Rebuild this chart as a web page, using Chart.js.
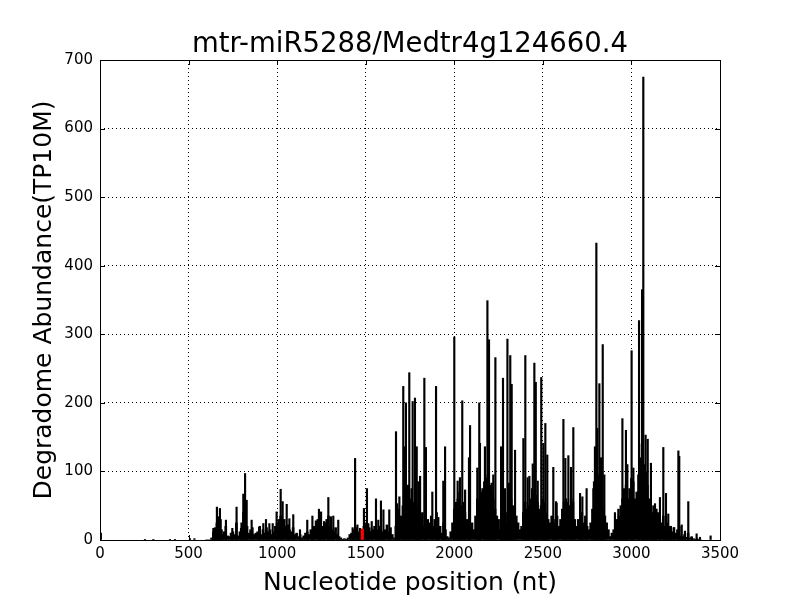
<!DOCTYPE html>
<html>
<head>
<meta charset="utf-8">
<script src="https://cdn.jsdelivr.net/npm/chart.js@4.4.0/dist/chart.umd.min.js"></script>
<style>
  html, body { margin: 0; padding: 0; background: #fff; }
</style>
</head>
<body>
<canvas id="myChart" width="800" height="600"></canvas>
<script>
// values
var titleText = 'mtr-miR5288/Medtr4g124660.4'
var xLabel = 'Nucleotide position (nt)'
var yLabel = 'Degradome Abundance(TP10M)'

var xTicks = [0, 500, 1000, 1500, 2000, 2500, 3000, 3500]
var yTicks = [0, 100, 200, 300, 400, 500, 600, 700]

// cleavage site (red)
var sitePos = [1481]
var siteVal = [16]

// single peaks
var spikePos = [5, 254, 301, 395, 423, 508, 533,
  640, 649, 660, 672, 677, 687, 711, 747, 771, 796, 809, 819, 828, 856, 898, 903, 922, 937, 956, 975, 997,
  1020, 1031, 1054, 1069, 1091, 1129, 1170, 1199, 1236, 1248, 1265, 1289, 1304, 1317, 1345, 1426, 1440, 1453, 1468,
  1490, 1507, 1515, 1534, 1558, 1571, 1586, 1600, 1633, 1671, 1678, 1690, 1712, 1722, 1727, 1746, 1765, 1778, 1788,
  1797, 1807, 1831, 1840, 1876, 1897, 1910, 1938, 1948, 2000, 2019, 2032, 2045, 2061, 2083, 2089, 2130, 2141, 2145,
  2173, 2187, 2192, 2196, 2211, 2220, 2232, 2264, 2275, 2286, 2300, 2309, 2316, 2324, 2343, 2390, 2401, 2414, 2424,
  2443, 2452, 2460, 2471, 2491, 2503, 2514, 2525, 2559, 2574, 2578, 2616, 2627, 2644, 2659, 2672, 2710, 2723, 2747,
  2785, 2794, 2802, 2808, 2819, 2828, 2838, 2847, 2907, 2926, 2939, 2949, 2958, 2969, 2977, 3001, 3011, 3043, 3060,
  3067, 3080, 3092, 3110, 3124, 3133, 3139, 3161, 3180, 3195, 3208, 3223, 3240, 3265, 3270, 3284, 3302, 3321, 3340,
  3368, 3387, 3447]
var spikeVal = [10, 1, 1, 1, 1, 2, 2,
  17, 18, 48, 34, 46, 15, 29, 17, 48, 17, 67, 97, 58, 29, 19, 20, 24, 30, 24, 24, 41,
  74, 56, 52, 31, 37, 15, 29, 35, 45, 41, 27, 62, 34, 35, 29, 18, 119, 22, 17,
  46, 75, 24, 27, 60, 29, 57, 44, 44, 158, 53, 63, 224, 136, 200, 244, 202, 207, 136,
  85, 93, 236, 135, 70, 224, 33, 86, 136, 296, 86, 91, 203, 73, 120, 167, 105, 200, 141,
  136, 349, 230, 292, 83, 95, 266, 136, 236, 75, 293, 83, 269, 227, 131, 148, 269, 91, 93,
  111, 258, 230, 86, 237, 141, 170, 124, 106, 56, 54, 176, 119, 123, 106, 164, 68, 63, 75,
  75, 136, 433, 163, 228, 120, 285, 95, 40, 45, 50, 177, 75, 160, 110, 276, 105, 320, 365,
  675, 153, 147, 112, 50, 53, 45, 62, 135, 68, 38, 20, 18, 130, 122, 22, 13, 56, 5,
  9, 4, 6]

// dense background, one value every 10 nt from 600
var baseStart = 600
var baseStep = 10
var baseVal = [
  0, 0, 0, 3, 12, 15, 25, 20, 30, 8,
  12, 20, 6, 5, 10, 12, 8, 25, 6, 12,
  25, 40, 45, 20, 10, 15, 18, 8, 10, 12,
  6, 8, 15, 10, 18, 12, 15, 8, 12, 20,
  25, 30, 35, 25, 30, 20, 22, 15, 12, 18,
  8, 10, 5, 8, 3, 6, 10, 12, 8, 15,
  10, 20, 28, 30, 25, 15, 20, 25, 30, 35,
  20, 15, 12, 18, 8, 5, 3, 1, 2, 1,
  3, 8, 10, 15, 12, 18, 12, 15, 3, 20,
  25, 15, 18, 12, 15, 20, 10, 15, 20, 12,
  10, 15, 22, 12, 18, 8, 3, 20, 45, 30,
  35, 50, 65, 70, 80, 60, 75, 55, 65, 45,
  50, 35, 40, 20, 15, 30, 25, 35, 20, 30,
  40, 15, 20, 10, 25, 15, 5, 3, 12, 25,
  45, 55, 60, 70, 50, 55, 40, 30, 20, 15,
  25, 15, 35, 60, 55, 70, 75, 85, 90, 95,
  80, 70, 60, 45, 35, 30, 15, 10, 5, 25,
  40, 55, 60, 50, 45, 35, 25, 15, 20, 40,
  55, 45, 50, 60, 75, 70, 65, 55, 45, 50,
  60, 55, 40, 30, 25, 35, 30, 25, 35, 20,
  30, 45, 55, 60, 55, 50, 60, 55, 30, 20,
  30, 25, 40, 25, 35, 20, 15, 25, 45, 85,
  110, 95, 80, 60, 45, 35, 25, 15, 5, 10,
  15, 20, 30, 35, 45, 60, 70, 80, 60, 75,
  90, 85, 60, 70, 95, 120, 140, 110, 100, 80,
  60, 50, 40, 35, 45, 40, 30, 25, 35, 20,
  25, 15, 20, 12, 18, 10, 15, 20, 6, 5,
  8, 4, 10, 3, 4, 2, 1, 2, 1, 0]

function toPoints(xs, ys) {
    var out = []
    for (var i = 0; i < xs.length; i++) out.push({x: xs[i], y: ys[i]})
    return out
}

var basePos = []
for (var i = 0; i < baseVal.length; i++) basePos.push(baseStart + i * baseStep)

var fontName = '"DejaVu Sans", sans-serif'

// frame, inward ticks and the texts, matplotlib style
var framePlugin = {
    id: 'frame',
    afterDraw: function(chart) {
        var c = chart.ctx
        var a = chart.chartArea
        var xs = chart.scales.x
        var ys = chart.scales.y
        c.save()
        c.strokeStyle = '#000'
        c.lineWidth = 1
        c.beginPath()
        xTicks.forEach(function(t) {
            var px = Math.round(xs.getPixelForValue(t)) + 0.5
            c.moveTo(px, a.bottom); c.lineTo(px, a.bottom - 5)
            c.moveTo(px, a.top); c.lineTo(px, a.top + 5)
        })
        yTicks.forEach(function(t) {
            var py = Math.round(ys.getPixelForValue(t)) + 0.5
            c.moveTo(a.left, py); c.lineTo(a.left + 5, py)
            c.moveTo(a.right, py); c.lineTo(a.right - 5, py)
        })
        c.stroke()
        c.strokeRect(a.left + 0.5, a.top + 0.5, a.right - a.left, a.bottom - a.top)

        c.fillStyle = '#000'
        c.textAlign = 'center'
        c.textBaseline = 'alphabetic'
        c.font = '27.5px ' + fontName
        c.fillText(titleText, (a.left + a.right) / 2, 52)
        c.font = '25px ' + fontName
        c.fillText(xLabel, (a.left + a.right) / 2, 590)
        c.translate(51, (a.top + a.bottom) / 2)
        c.rotate(-Math.PI / 2)
        c.fillText(yLabel, 0, 0)
        c.restore()
    }
}

var ctx = document.getElementById('myChart')

var myChart = new Chart(ctx, {
    type: 'bar',
    data: {
        datasets: [{
            label: 'site',
            data: toPoints(sitePos, siteVal),
            backgroundColor: '#ff0000',
            barThickness: 2.5
        }, {
            label: 'peaks',
            data: toPoints(spikePos, spikeVal),
            backgroundColor: '#000000',
            barThickness: 1.5
        }, {
            label: 'base',
            data: toPoints(basePos, baseVal),
            backgroundColor: '#000000',
            barThickness: 2
        }]
    },
    options: {
        responsive: false,
        animation: false,
        devicePixelRatio: 1,
        layout: {padding: {top: 60, right: 80, left: 0, bottom: 0}},
        datasets: {bar: {grouped: false}},
        plugins: {
            legend: {display: false},
            tooltip: {enabled: false},
            title: {display: false}
        },
        scales: {
            x: {
                type: 'linear',
                min: 0,
                max: 3500,
                offset: false,
                afterFit: function(s) { s.height = 60 },
                afterBuildTicks: function(s) { s.ticks = xTicks.map(function(v) { return {value: v} }) },
                ticks: {
                    color: '#000',
                    font: {family: fontName, size: 15},
                    padding: 5,
                    maxRotation: 0,
                    autoSkip: false,
                    callback: function(v) { return String(v) }
                },
                grid: {color: '#000', lineWidth: 1, drawTicks: false, offset: false},
                border: {display: false, dash: [1, 3]}
            },
            y: {
                min: 0,
                max: 700,
                afterFit: function(s) { s.width = 100 },
                afterBuildTicks: function(s) { s.ticks = yTicks.map(function(v) { return {value: v} }) },
                ticks: {
                    color: '#000',
                    font: {family: fontName, size: 15},
                    padding: 7,
                    callback: function(v) { return String(v) }
                },
                grid: {color: '#000', lineWidth: 1, drawTicks: false, offset: false},
                border: {display: false, dash: [1, 3]}
            }
        }
    },
    plugins: [framePlugin]
})
</script>
</body>
</html>
